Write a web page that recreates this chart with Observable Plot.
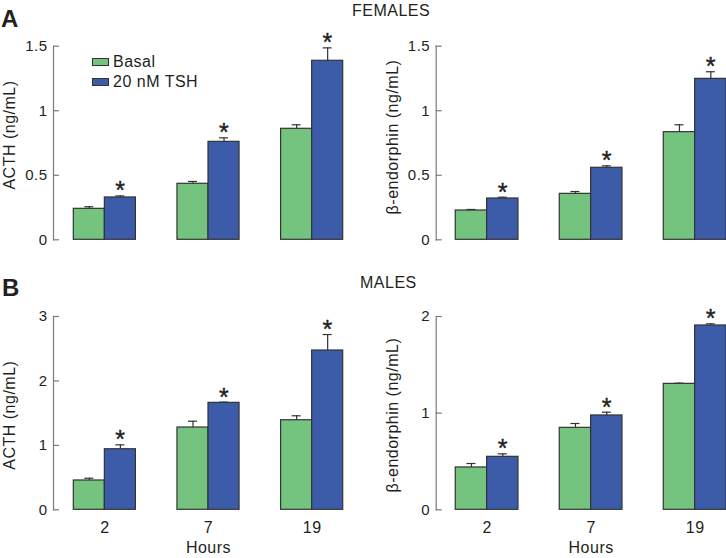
<!DOCTYPE html>
<html><head><meta charset="utf-8">
<script src="https://cdn.jsdelivr.net/npm/d3@7"></script>
<script src="https://cdn.jsdelivr.net/npm/@observablehq/plot@0.6"></script>
<style>
body{margin:0;background:#fff;font-family:"Liberation Sans",Arial,sans-serif;color:#231f20}
#wrap{position:relative;width:726px;height:558px;overflow:hidden;background:#fff}
.panel{position:absolute}
.tag{position:absolute;font-weight:bold;font-size:24px;line-height:24px}
.title{position:absolute;font-size:16px;line-height:16px;letter-spacing:0.5px}
.legend{position:absolute;font-size:16px;letter-spacing:0.5px}
.legend .row{display:flex;align-items:center;height:20px}
.sw{width:15px;height:6px;border:1px solid #333;margin-right:4px}
</style></head>
<body>
<div id="wrap">
  <div class="panel" id="p1" style="left:0;top:0"></div>
  <div class="panel" id="p2" style="left:363px;top:0"></div>
  <div class="panel" id="p3" style="left:0;top:260px"></div>
  <div class="panel" id="p4" style="left:363px;top:260px"></div>
  <div class="tag" style="left:1px;top:7px">A</div>
  <div class="title" style="left:352px;top:3px">FEMALES</div>
  <div class="tag" style="left:2px;top:276px">B</div>
  <div class="title" style="left:360px;top:275px">MALES</div>
  <div class="legend" style="left:92px;top:52px">
    <div class="row"><div class="sw" style="background:#74c47f"></div><span id="lg1"></span></div>
    <div class="row"><div class="sw" style="background:#3c5ca9"></div><span id="lg2"></span></div>
  </div>
</div>
<script>
// ---- data ----
const hours = ["2", "7", "19"];
const seriesNames = ["Basal", "20 nM TSH"];
const xTitle = "Hours";

const femActhBasal = [0.24, 0.434, 0.86];
const femActhBasalSem = [0.016, 0.018, 0.031];
const femActhTsh = [0.328, 0.759, 1.387];
const femActhTshSem = [0.012, 0.031, 0.10];

const femEndBasal = [0.227, 0.356, 0.834];
const femEndBasalSem = [0.008, 0.018, 0.057];
const femEndTsh = [0.32, 0.558, 1.247];
const femEndTshSem = [0.01, 0.015, 0.055];

const maleActhBasal = [0.455, 1.277, 1.39];
const maleActhBasalSem = [0.035, 0.098, 0.069];
const maleActhTsh = [0.94, 1.66, 2.472];
const maleActhTshSem = [0.068, 0.01, 0.248];

const maleEndBasal = [0.438, 0.848, 1.303];
const maleEndBasalSem = [0.041, 0.045, 0.007];
const maleEndTsh = [0.548, 0.976, 1.907];
const maleEndTshSem = [0.031, 0.034, 0.017];

const ticksF = [0, 0.5, 1, 1.5];
const ticksMA = [0, 1, 2, 3];
const ticksME = [0, 1, 2];
const labelActh = "ACTH (ng/mL)";
const labelEnd = "β-endorphin (ng/mL)";
const sigMark = "*";

document.getElementById("lg1").textContent = seriesNames[0];
document.getElementById("lg2").textContent = seriesNames[1];

const GREEN = "#74c47f", BLUE = "#3c5ca9", EDGE = "#333", AXIS = "#7a7a7a", TXT = "#231f20";

function rows(v, s) { return hours.map((h, i) => ({hour: h, value: v[i], top: v[i] + s[i]})); }

function panel(el, o) {
  const {basal, basalSem, tsh, tshSem, domain, ticks, label, width, height, ml, mt, mb, pi, po, align, showX, labelDy} = o;
  const n = hours.length;
  const step = (width - ml) / (n - pi + 2 * po);
  const bw = step * (1 - pi);
  const q = bw / 4;
  const cap = 4.5;
  const B = rows(basal, basalSem), T = rows(tsh, tshSem);
  const marks = [
    Plot.barY(B, {x: "hour", y: "value", fill: GREEN, stroke: EDGE, strokeWidth: 1.2, insetRight: bw / 2}),
    Plot.barY(T, {x: "hour", y: "value", fill: BLUE, stroke: EDGE, strokeWidth: 1.2, insetLeft: bw / 2}),
    Plot.ruleX(B, {x: "hour", y1: "value", y2: "top", dx: -q, stroke: EDGE, strokeWidth: 1.2}),
    Plot.ruleX(T, {x: "hour", y1: "value", y2: "top", dx: q, stroke: EDGE, strokeWidth: 1.2}),
    Plot.tickY(B, {x: "hour", y: "top", dx: -q, insetLeft: bw / 2 - cap, insetRight: bw / 2 - cap, stroke: EDGE, strokeWidth: 1.2}),
    Plot.tickY(T, {x: "hour", y: "top", dx: q, insetLeft: bw / 2 - cap, insetRight: bw / 2 - cap, stroke: EDGE, strokeWidth: 1.2}),
    Plot.text(T, {x: "hour", y: "top", text: () => sigMark, dx: q, dy: -4.5, lineAnchor: "middle", fontSize: 25, fill: TXT, stroke: TXT, strokeWidth: 0.4}),
    Plot.frame({anchor: "left", stroke: AXIS, strokeWidth: 1.2}),
    Plot.axisY({ticks, tickSize: 6, dx: 6, fill: "none", stroke: AXIS, strokeWidth: 1.2, label: null}),
    Plot.axisY({ticks, tickSize: 0, tickPadding: 6, fill: TXT, fontSize: 15, label: null, tickFormat: d => `${d}`}),
    Plot.text([label], {frameAnchor: "left", textAnchor: "middle", rotate: -90, dx: -50, dy: labelDy, lineAnchor: "top", fontSize: 16, fill: TXT})
  ];
  if (showX) {
    marks.push(Plot.axisX({tickSize: 0, tickPadding: 12, fontSize: 16, fill: TXT, label: null}));
    marks.push(Plot.text([hours[1]], {x: d => d, text: () => xTitle, frameAnchor: "bottom", dy: 38, lineAnchor: "middle", fontSize: 16, fill: TXT}));
  }
  const chart = Plot.plot({
    width, height,
    marginLeft: ml, marginRight: 0, marginTop: mt, marginBottom: mb,
    style: "font-family:'Liberation Sans',Arial,sans-serif;font-size:15px;letter-spacing:0.5px;background:transparent;overflow:visible;",
    x: {type: "band", domain: hours, paddingInner: pi, paddingOuter: po, align, round: false, axis: showX ? undefined : null},
    y: {domain, round: false},
    marks
  });
  document.getElementById(el).appendChild(chart);
}

panel("p1", {basal: femActhBasal, basalSem: femActhBasalSem, tsh: femActhTsh, tshSem: femActhTshSem,
  domain: [0, 1.5], ticks: ticksF, label: labelActh, width: 363, height: 260, ml: 53, mt: 45.7, mb: 20.7,
  pi: 0.401, po: 0.196, align: 0.5, showX: false, labelDy: -8});
panel("p2", {basal: femEndBasal, basalSem: femEndBasalSem, tsh: femEndTsh, tshSem: femEndTshSem,
  domain: [0, 1.5], ticks: ticksF, label: labelEnd, width: 363, height: 260, ml: 72.7, mt: 45.7, mb: 20.7,
  pi: 0.397, po: 0.094, align: 1, showX: false, labelDy: -6});
panel("p3", {basal: maleActhBasal, basalSem: maleActhBasalSem, tsh: maleActhTsh, tshSem: maleActhTshSem,
  domain: [0, 3], ticks: ticksMA, label: labelActh, width: 363, height: 298, ml: 53, mt: 56, mb: 48.7,
  pi: 0.401, po: 0.196, align: 0.5, showX: true, labelDy: 2});
panel("p4", {basal: maleEndBasal, basalSem: maleEndBasalSem, tsh: maleEndTsh, tshSem: maleEndTshSem,
  domain: [0, 2], ticks: ticksME, label: labelEnd, width: 363, height: 298, ml: 72.7, mt: 56, mb: 48.7,
  pi: 0.397, po: 0.094, align: 1, showX: true, labelDy: 2});
</script>
</body></html>
